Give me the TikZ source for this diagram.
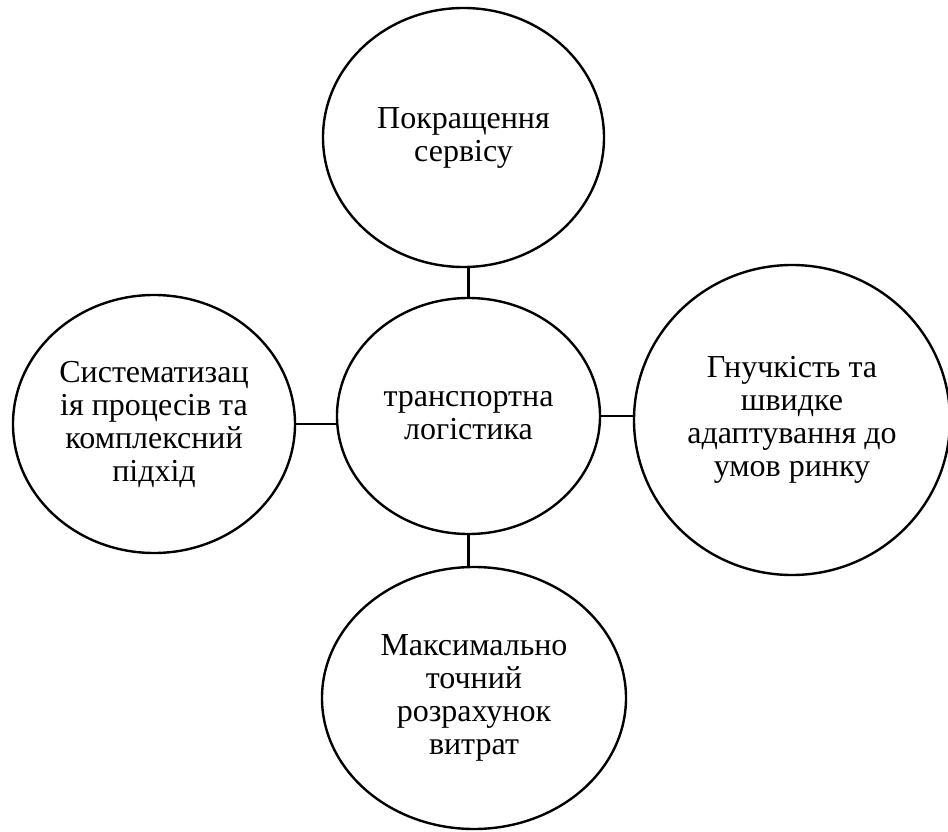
\documentclass[tikz,border=0pt]{standalone}
\usepackage{fontspec}
\setmainfont{Liberation Serif}
\usetikzlibrary{shapes.geometric}

\begin{document}
\begin{tikzpicture}[x=1pt,y=-1pt,line width=2.4pt,
  bubble/.style={draw,ellipse,inner sep=0pt,align=center,
    font=\fontsize{32}{33}\selectfont}]
\useasboundingbox (0,0) rectangle (948,832);
% centre and the four goals around it
\node[bubble,minimum width=263pt,minimum height=236pt] (hub) at (468.5,416) {транспортна\\логістика};
\node[bubble,minimum width=281pt,minimum height=259pt] (serv) at (463.5,137.5) {Покращення\\сервісу};
\node[bubble,minimum width=282pt,minimum height=258pt] (syst) at (154,424) {Систематизац\\ія процесів та\\комплексний\\підхід};
\node[bubble,minimum width=316pt,minimum height=310pt] (flex) at (792,420) {Гнучкість та\\швидке\\адаптування до\\умов ринку};
\node[bubble,minimum width=304pt,minimum height=262pt] (cost) at (474,698) {Максимально\\точний\\розрахунок\\витрат};

% connectors
\draw (hub.north) -- (hub.north |- serv.south);
\draw (syst.east) -- (syst.east -| hub.west);
\draw (hub.east) -- (hub.east -| flex.west);
\draw (hub.south) -- (hub.south |- cost.north);
\end{tikzpicture}
\end{document}
